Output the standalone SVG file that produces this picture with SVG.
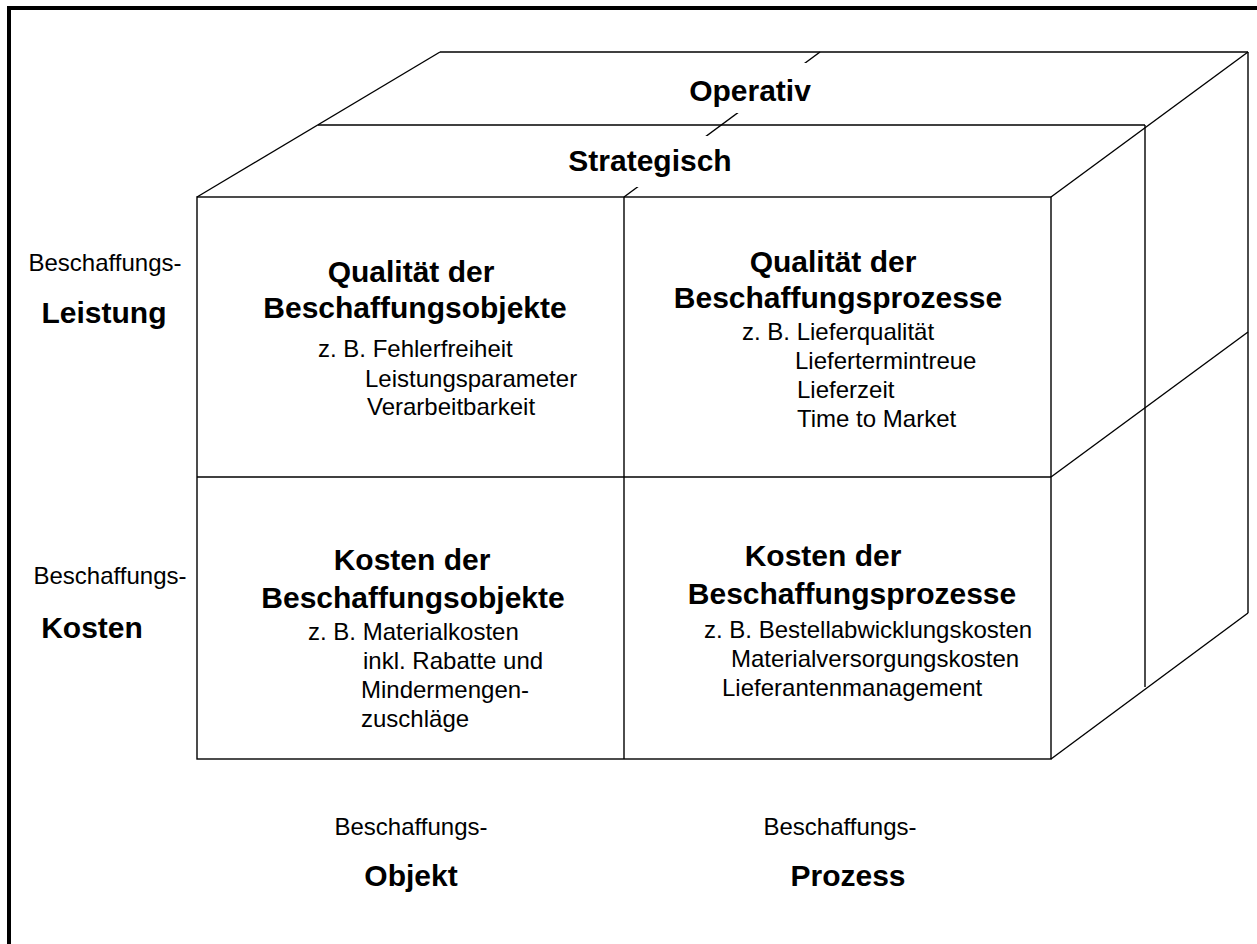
<svg xmlns="http://www.w3.org/2000/svg" width="1257" height="944" viewBox="0 0 1257 944">
  <style>
    text { font-family: "Liberation Sans", Arial, sans-serif; fill: #000; }
    .b { font-weight: bold; font-size: 30px; }
    .r { font-size: 24px; }
    .c { text-anchor: middle; }
    .ln { fill: none; stroke: #000; stroke-width: 1.4; }
    .bg { fill: #fff; stroke: none; }
  </style>

  <rect x="0" y="0" width="1257" height="944" fill="#fff"/>

  <!-- outer frame (runs off the right and bottom edges) -->
  <path d="M9,950 V8 H1265" fill="none" stroke="#000" stroke-width="4"/>

  <!-- cube edges -->
  <g id="cube" class="ln">
    <!-- front face with quadrant dividers -->
    <rect x="197" y="197" width="854" height="562"/>
    <line x1="624" y1="197" x2="624" y2="759"/>
    <line x1="197" y1="477" x2="1051" y2="477"/>
    <!-- top faces -->
    <line x1="197" y1="197" x2="440" y2="52"/>
    <line x1="440" y1="52" x2="1248" y2="52"/>
    <line x1="318" y1="125" x2="1145" y2="125"/>
    <line x1="624" y1="197" x2="820" y2="52"/>
    <!-- right faces -->
    <line x1="1051" y1="197" x2="1248" y2="52"/>
    <line x1="1051" y1="477" x2="1248" y2="332"/>
    <line x1="1051" y1="759" x2="1248" y2="613"/>
    <line x1="1145" y1="125" x2="1145" y2="687"/>
    <line x1="1248" y1="52" x2="1248" y2="613"/>
  </g>

  <!-- layer labels on the top faces -->
  <g id="layer-operativ">
    <rect class="bg" x="680" y="63" width="150" height="50"/>
    <text class="b c" x="750" y="101">Operativ</text>
  </g>
  <g id="layer-strategisch">
    <rect class="bg" x="560" y="136" width="185" height="51"/>
    <text class="b c" x="650" y="171">Strategisch</text>
  </g>

  <!-- quadrant: quality of procurement objects -->
  <g id="cell-qualitaet-objekte">
    <text class="b c" x="411" y="282">Qualität der</text>
    <text class="b c" x="415" y="318">Beschaffungsobjekte</text>
    <text class="r" x="318" y="357">z. B. Fehlerfreiheit</text>
    <text class="r" x="365" y="387">Leistungsparameter</text>
    <text class="r" x="367" y="415">Verarbeitbarkeit</text>
  </g>

  <!-- quadrant: quality of procurement processes -->
  <g id="cell-qualitaet-prozesse">
    <text class="b c" x="833" y="272">Qualität der</text>
    <text class="b c" x="838" y="308">Beschaffungsprozesse</text>
    <text class="r" x="742" y="340">z. B. Lieferqualität</text>
    <text class="r" x="795" y="369">Liefertermintreue</text>
    <text class="r" x="797" y="398">Lieferzeit</text>
    <text class="r" x="797" y="427">Time to Market</text>
  </g>

  <!-- quadrant: cost of procurement objects -->
  <g id="cell-kosten-objekte">
    <text class="b c" x="412" y="570">Kosten der</text>
    <text class="b c" x="413" y="608">Beschaffungsobjekte</text>
    <text class="r" x="308" y="640">z. B. Materialkosten</text>
    <text class="r" x="363" y="669">inkl. Rabatte und</text>
    <text class="r" x="361" y="698">Mindermengen-</text>
    <text class="r" x="361" y="727">zuschläge</text>
  </g>

  <!-- quadrant: cost of procurement processes -->
  <g id="cell-kosten-prozesse">
    <text class="b c" x="823" y="566">Kosten der</text>
    <text class="b c" x="852" y="604">Beschaffungsprozesse</text>
    <text class="r" x="704" y="638">z. B. Bestellabwicklungskosten</text>
    <text class="r" x="731" y="667">Materialversorgungskosten</text>
    <text class="r" x="722" y="696">Lieferantenmanagement</text>
  </g>

  <!-- axis labels: rows -->
  <g id="axis-leistung">
    <text class="r c" x="105" y="271">Beschaffungs-</text>
    <text class="b c" x="104" y="323">Leistung</text>
  </g>
  <g id="axis-kosten">
    <text class="r c" x="110" y="584">Beschaffungs-</text>
    <text class="b c" x="92" y="638">Kosten</text>
  </g>

  <!-- axis labels: columns -->
  <g id="axis-objekt">
    <text class="r c" x="411" y="835">Beschaffungs-</text>
    <text class="b c" x="411" y="886">Objekt</text>
  </g>
  <g id="axis-prozess">
    <text class="r c" x="840" y="835">Beschaffungs-</text>
    <text class="b c" x="848" y="886">Prozess</text>
  </g>
</svg>
